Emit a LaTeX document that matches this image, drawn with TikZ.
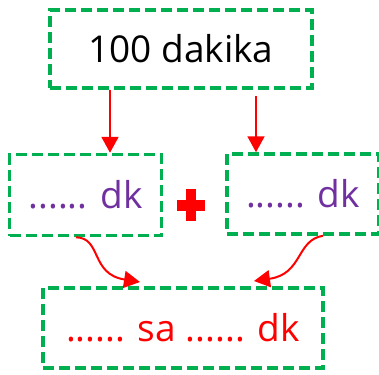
\documentclass[tikz,border=0pt]{standalone}
\usepackage{fontspec}
\setmainfont{Open Sans}
\usetikzlibrary{arrows.meta}
\definecolor{boxgreen}{RGB}{0,176,80}
\definecolor{dkpurple}{RGB}{112,48,160}
\tikzset{
	dashbox/.style={draw=boxgreen, line width=3.5pt, dash pattern=on 11pt off 5pt, minimum height=78pt, inner sep=0pt},
	redarrow/.style={red, line width=2pt, -{Triangle[width=17pt,length=16pt]}},
}
\begin{document}
\begin{tikzpicture}[x=1pt,y=-1pt]
	\useasboundingbox (0,0) rectangle (379,374);
	
	\node[dashbox, minimum width=262pt] (total) at (181,49) {\fontsize{37}{40}\selectfont 100 dakika};
	\node[dashbox, minimum width=152pt, minimum height=81pt] (parta) at (85.5,195) {\fontsize{37}{40}\selectfont\color{dkpurple}...... dk};
	\node[dashbox, minimum width=152pt, minimum height=80pt] (partb) at (303,194) {\fontsize{37}{40}\selectfont\color{dkpurple}...... dk};
	\node[dashbox, minimum width=280pt, minimum height=80pt] (result) at (183,328) {\fontsize{37}{40}\selectfont\color{red}...... sa ...... dk};
	
	% plus sign
	\fill[red] (186,189) rectangle (196,221);
	\fill[red] (177,200) rectangle (205,211);
	
	\coordinate (tb) at (256,96);
	\draw[redarrow] (total.south -| 110,0) -- (parta.north -| 110,0);
	\draw[redarrow] (tb) -- (partb.north -| 256,0);
	
	\draw[redarrow] (parta.south -| 76,0) .. controls (102,238) and (90,274) .. (140,282);
	\draw[redarrow] (partb.south -| 323,0) .. controls (296,240) and (303,274) .. (254,281);
\end{tikzpicture}
\end{document}
